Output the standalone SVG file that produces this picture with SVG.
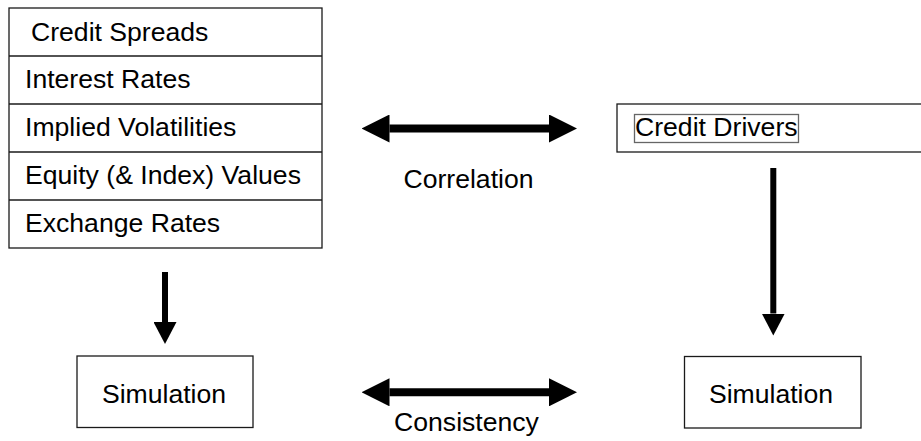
<svg xmlns="http://www.w3.org/2000/svg" width="921" height="441" viewBox="0 0 921 441">
  <style>
    .box { fill: #ffffff; stroke: #1a1a1a; stroke-width: 1.3; }
    .inner { fill: none; stroke: #666666; stroke-width: 1.3; }
    .label { font-family: "Liberation Sans", Arial, sans-serif; font-size: 26.6px; fill: #000000; }
    .mid { text-anchor: middle; }
    .shaft { stroke: #000000; fill: none; }
    .h { stroke-width: 8; }
    .v { stroke-width: 6; }
  </style>
  <defs>
    <marker id="headH" markerUnits="userSpaceOnUse" markerWidth="28" markerHeight="28" refX="0" refY="14" orient="auto-start-reverse" viewBox="0 0 28 28">
      <path d="M0,0 L28,14 L0,28 z" fill="#000000"/>
    </marker>
    <marker id="headV" markerUnits="userSpaceOnUse" markerWidth="22" markerHeight="23" refX="0" refY="11.5" orient="auto" viewBox="0 0 22 23">
      <path d="M0,0 L22,11.5 L0,23 z" fill="#000000"/>
    </marker>
  </defs>
  <rect width="921" height="441" fill="#ffffff"/>

  <!-- market risk factors stacked in one table -->
  <g id="risk-factors">
    <rect class="box" x="9" y="8" width="313" height="240"/>
    <line class="box" x1="9" y1="56" x2="322" y2="56"/>
    <line class="box" x1="9" y1="104" x2="322" y2="104"/>
    <line class="box" x1="9" y1="152" x2="322" y2="152"/>
    <line class="box" x1="9" y1="200" x2="322" y2="200"/>
    <text class="label" x="31" y="41">Credit Spreads</text>
    <text class="label" x="25" y="88">Interest Rates</text>
    <text class="label" x="25" y="136">Implied Volatilities</text>
    <text class="label" x="25" y="184">Equity (&amp; Index) Values</text>
    <text class="label" x="25" y="232">Exchange Rates</text>
  </g>

  <!-- credit drivers, box runs past the right edge -->
  <g id="credit-drivers">
    <rect class="box" x="617" y="104" width="320" height="48"/>
    <rect class="inner" x="634.5" y="114.5" width="164" height="28"/>
    <text class="label" x="635" y="136">Credit Drivers</text>
  </g>

  <g id="simulation-left">
    <rect class="box" x="77" y="356" width="176" height="71.5"/>
    <text class="label mid" x="164" y="403">Simulation</text>
  </g>

  <g id="simulation-right">
    <rect class="box" x="684.5" y="356.5" width="176.5" height="71.5"/>
    <text class="label mid" x="771" y="403">Simulation</text>
  </g>

  <g id="connectors">
    <line class="shaft h" x1="389.5" y1="128.5" x2="549" y2="128.5" marker-start="url(#headH)" marker-end="url(#headH)"/>
    <text class="label mid" x="468.5" y="188">Correlation</text>
    <line class="shaft h" x1="389.5" y1="392.3" x2="549" y2="392.3" marker-start="url(#headH)" marker-end="url(#headH)"/>
    <text class="label mid" x="466.5" y="430.5">Consistency</text>
    <line class="shaft v" x1="165" y1="272" x2="165" y2="322" marker-end="url(#headV)"/>
    <line class="shaft v" x1="773.3" y1="168" x2="773.3" y2="313.5" marker-end="url(#headV)"/>
  </g>
</svg>
